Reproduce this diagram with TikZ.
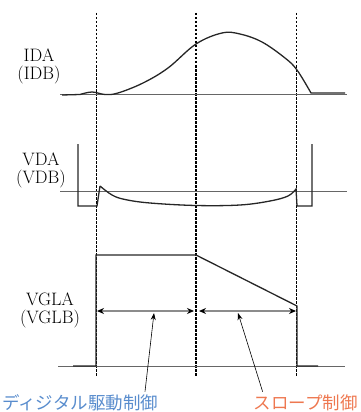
\documentclass[tikz,border=0pt]{standalone}
\usepackage{fontspec}
\newfontfamily\jpfont{Noto Sans CJK JP}
\usetikzlibrary{arrows.meta}

\definecolor{digblue}{RGB}{88,140,205}
\definecolor{slopeorange}{RGB}{238,120,80}

\begin{document}
\begin{tikzpicture}[x=1pt,y=-1pt,
    wave/.style={line width=1.3pt,black!85},
    baseline/.style={line width=0.7pt,black!60},
    guide/.style={dash pattern=on 2.5pt off 1.5pt,line width=1.1pt},
    span/.style={line width=1.3pt,black!45,
      {Stealth[black,length=7pt,width=6pt]}-{Stealth[black,length=7pt,width=6pt]}},
    sig/.style={font=\fontsize{18}{18}\selectfont,align=center,inner sep=0pt},
    jnote/.style={font=\jpfont\fontsize{17.5}{20}\selectfont,inner sep=0pt},
    pointer/.style={line width=0.6pt,-{Stealth[length=7pt,width=5pt]}}
  ]
  \useasboundingbox (0,0) rectangle (360,412);

  % timing guides
  \foreach \x in {96.7,196,296.7}
    \draw[guide] (\x,13) -- (\x,377);

  % drain current
  \node[sig] (ida) at (39,66) {IDA\\(IDB)};
  \draw[baseline] (60,94) -- (347,94);
  \draw[wave] (62,95) -- (80,94.5)
    plot[smooth,tension=0.6] coordinates {(80,94.5) (92,92) (105,94.5) (118,93)
      (143,83) (168,68) (196,44) (222,33) (240,34) (262,42) (285,58) (297,70) (311,93)}
    -- (345,93);

  % drain voltage
  \node[sig] (vda) at (41,170) {VDA\\(VDB)};
  \draw[baseline] (60,191) -- (347,191);
  \draw[wave] (78,144) -- (78,206) -- (97,206) -- (100,186)
    plot[smooth,tension=0.6] coordinates {(100,186) (112,195) (125,199.5) (150,203)
      (196,205.5) (240,205) (270,201) (288,196) (296,189)}
    -- (297,206) -- (312,206) -- (312,144);

  % gate voltage
  \node[sig] (vgla) at (50,310) {VGLA\\(VGLB)};
  \draw[baseline] (58,366) -- (345,366);
  \draw[wave] (73,366) -- (96,366) -- (96,255) -- (196,255) -- (297,306)
    -- (297,366) -- (318,366);

  % control periods
  \draw[span] (97,311) -- (194,311);
  \draw[span] (199,311) -- (296,311);
  \coordinate (digtip) at (154,313);
  \coordinate (slopetip) at (238,313);

  \node[jnote,text=digblue,anchor=west] (dig) at (2,403) {ディジタル駆動制御};
  \node[jnote,text=slopeorange,anchor=east] (slope) at (358,403) {スロープ制御};
  \draw[pointer] (dig.north west) ++(143,-3) -- (digtip);
  \draw[pointer] (slope.north west) ++(9,-3) -- (slopetip);
\end{tikzpicture}
\end{document}
